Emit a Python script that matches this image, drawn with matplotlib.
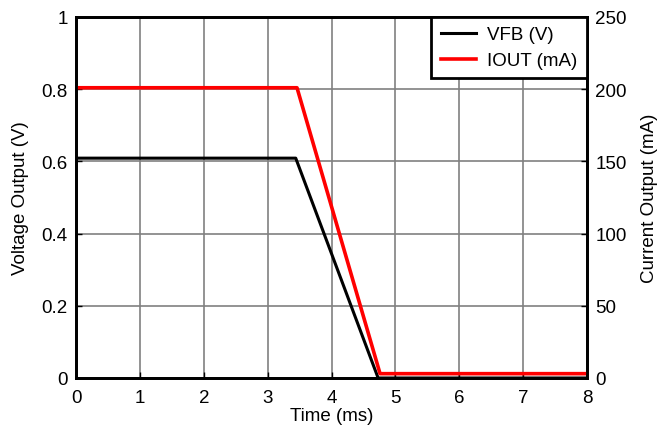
import matplotlib
matplotlib.use("Agg")
import matplotlib.pyplot as plt

plt.rcParams['font.family'] = ['Liberation Sans', 'DejaVu Sans']
plt.rcParams['font.size'] = 13.5

# Time (ms) and values
vfb_t = [0.0, 3.44, 4.73, 8.0]
vfb_v = [0.609, 0.609, 0.0, 0.0]

iout_t = [0.0, 3.46, 4.76, 8.0]
iout_ma = [201.0, 201.0, 3.0, 3.0]

fig = plt.figure(figsize=(6.6, 4.27), dpi=100)
ax = fig.add_axes([76 / 660, 1 - 379 / 427, (587 - 76) / 660, (379 - 18) / 427])
ax2 = ax.twinx()

ax.plot(vfb_t, vfb_v, color='black', lw=2.2, label='VFB (V)')
ax2.plot(iout_t, iout_ma, color='#ff0000', lw=2.6, label='IOUT (mA)')

ax.set_xlim(0, 8)
ax.set_ylim(0, 1)
ax2.set_ylim(0, 250)
ax.set_xticks(range(0, 9))
ax.set_yticks([0, 0.2, 0.4, 0.6, 0.8, 1])
ax.set_yticklabels(['0', '0.2', '0.4', '0.6', '0.8', '1'])
ax2.set_yticks([0, 50, 100, 150, 200, 250])

ax.grid(True, color='#808080', lw=1.2)
ax.set_axisbelow(True)
for a in (ax, ax2):
    a.tick_params(direction='in', length=4, width=1, colors='black',
                  labelsize=13.5, pad=6)
    for s in a.spines.values():
        s.set_linewidth(2)
ax.tick_params(axis='x', pad=8)

ax.set_xlabel('Time (ms)', labelpad=1)
ax.set_ylabel('Voltage Output (V)', labelpad=9)
ax2.set_ylabel('Current Output (mA)', labelpad=10)

h1, l1 = ax.get_legend_handles_labels()
h2, l2 = ax2.get_legend_handles_labels()
leg = ax2.legend(h1 + h2, l1 + l2, loc='upper right', fancybox=False,
                 framealpha=1, edgecolor='black', borderaxespad=0,
                 handlelength=1.9, labelspacing=0.45, borderpad=0.5,
                 handletextpad=0.6, fontsize=13.5)
leg.get_frame().set_linewidth(2)

fig.savefig('out.png', dpi=100)
